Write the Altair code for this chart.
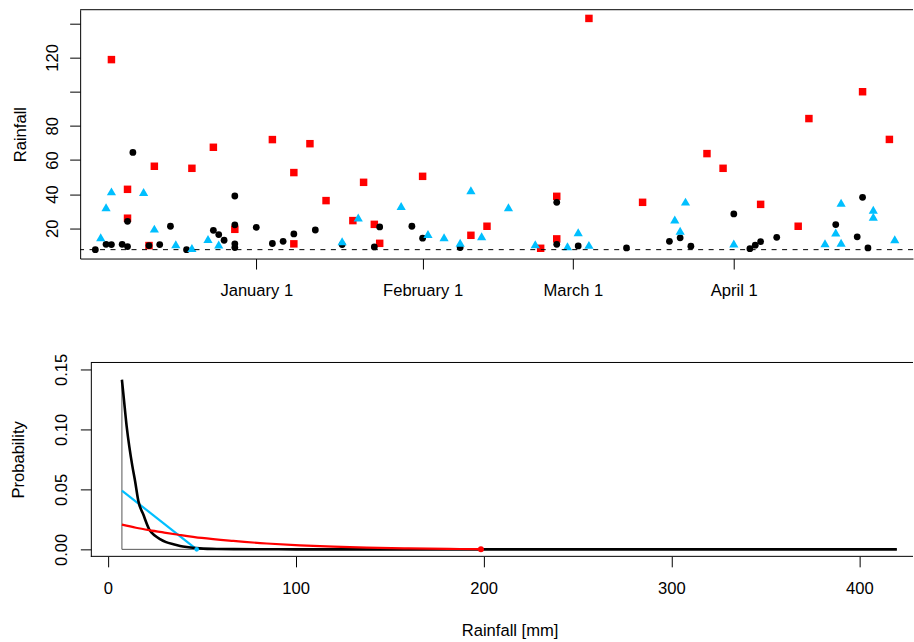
import altair as alt
import pandas as pd

FONT = "Liberation Sans"
FS = 16.6

# ---------------- top panel data (day offset from January 1, rainfall) ----------------
black_days = [-30, -28, -27, -25, -24, -24, -23, -20, -18, -16, -13, -8, -7, -6, -4, -4, -4, -4,
              0, 3, 5, 7, 11, 16, 22, 23, 29, 31, 38, 56, 56, 60, 69, 77, 79, 81, 89, 92, 93, 94,
              97, 108, 112, 113, 114]
black_vals = [7.5, 10.6, 10.5, 10.6, 9.3, 24.1, 64.4, 9.9, 10.5, 21.2, 7.5, 18.8, 16.3, 13.0, 38.9, 22.0, 10.9, 8.7,
              20.6, 11.1, 12.4, 16.7, 19.0, 10.5, 9.1, 20.8, 21.2, 14.2, 8.7, 35.2, 10.6, 9.7, 8.5, 12.4, 14.4, 9.5, 28.4, 8.1, 10.1, 12.2,
              14.7, 22.2, 15.0, 38.1, 8.5]

red_days = [-27, -24, -24, -20, -19, -12, -8, -4, 3, 7, 7, 10, 13, 18, 20, 22, 23, 31, 40, 43, 53, 56, 56,
            62, 72, 84, 87, 94, 101, 103, 113, 118]
red_vals = [118.7, 42.8, 25.9, 9.9, 56.3, 55.1, 67.4, 19.4, 71.9, 52.6, 10.9, 69.5, 36.2, 24.5, 46.9, 22.3, 11.2,
            50.4, 15.9, 21.2, 8.3, 38.7, 13.8, 142.8, 35.2, 63.7, 55.1, 34.0, 21.2, 84.2, 99.9, 72.0]

blue_days = [-29, -28, -27, -21, -19, -15, -12, -9, -7, 16, 19, 27, 32, 35, 38, 40, 42, 47, 52, 58, 60, 62,
             78, 79, 80, 89, 106, 108, 109, 109, 115, 115, 119]
blue_vals = [14.7, 32.3, 41.6, 41.3, 19.8, 10.6, 8.5, 13.8, 10.5, 12.4, 26.3, 33.1, 16.7, 14.7, 11.5, 42.2, 15.3,
             32.3, 10.6, 9.5, 17.7, 10.3, 25.1, 18.5, 35.6, 11.1, 11.2, 17.5, 34.9, 11.6, 30.8, 26.8, 13.6]

threshold = 7.5

date_tick_days = [0, 31, 59, 89]
date_tick_labels = ["January 1", "February 1", "March 1", "April 1"]
rain_ticks = [20, 40, 60, 80, 100, 120, 140]
rain_hidden = [100, 140]

# ---------------- bottom panel data ----------------
black_curve_x = [7.5, 8.5, 10, 11.5, 13, 14.5, 16.3, 18.9, 22.1, 25, 27.8, 31, 34.9, 38.5, 42, 49, 58, 67, 80, 100, 150, 250, 350, 420]
black_curve_y = [0.1414, 0.126, 0.103, 0.085, 0.070, 0.057, 0.040, 0.029, 0.0165, 0.0115, 0.0085, 0.0060, 0.0042, 0.0028,
                 0.0019, 0.0008, 0.0003, 0.0002, 0.0001, 0, 0, 0, 0, 0]
red_curve_x = [7.5, 15, 22, 30, 37.6, 50, 66.8, 84.6, 102.3, 120, 137.8, 160, 187.4, 198.6]
red_curve_y = [0.0206, 0.0180, 0.0160, 0.0140, 0.0122, 0.0095, 0.0070, 0.0049, 0.0033, 0.0022, 0.0014, 0.0008, 0.0003, 0.0002]
blue_curve_x = [7.5, 47.3]
blue_curve_y = [0.049, 0.0]
red_end = [198.6, 0.0]
blue_end = [47.3, 0.0]
peak_x = 7.5
peak_y = 0.1414
base_end_x = 420
frame_left_mm = -9.04  # left edge of the lower panel's frame

prob_ticks = [0, 0.05, 0.10, 0.15]
mm_ticks = [0, 100, 200, 300, 400]

# ---------------- top panel ----------------
W, H_TOP = 833.4, 249
x_top = alt.Scale(domain=[-32.83, 122.4], nice=False, zero=False)
y_top = alt.Scale(domain=[2.3, 147.9], nice=False, zero=False)

x_label_expr = " : ".join(f"datum.value == {d} ? '{l}'" for d, l in zip(date_tick_days, date_tick_labels)) + " : ''"
y_label_expr = " || ".join(f"datum.value == {v}" for v in rain_hidden) + " ? '' : datum.label"

x_axis_top = alt.Axis(values=date_tick_days, labelExpr=x_label_expr, title=None,
                      labelPadding=26.7, labelBaseline="alphabetic", labelAlign="center")
y_axis_top = alt.Axis(values=rain_ticks, labelExpr=y_label_expr, title="Rainfall",
                      labelAngle=-90, labelAlign="center", labelBaseline="alphabetic", labelPadding=12.6,
                      titleAngle=-90, titleAlign="center", titleBaseline="alphabetic",
                      titleX=-55, titleY=H_TOP / 2)

red_df = pd.DataFrame({"day": red_days, "value": red_vals})
black_df = pd.DataFrame({"day": black_days, "value": black_vals})
blue_df = pd.DataFrame({"day": blue_days, "value": blue_vals})

red_pts = alt.Chart(red_df).mark_point(shape="square", filled=True, size=56, color="#FF0000", opacity=1).encode(
    x=alt.X("day:Q", scale=x_top, axis=x_axis_top),
    y=alt.Y("value:Q", scale=y_top, axis=y_axis_top))
black_pts = alt.Chart(black_df).mark_circle(size=46, color="black", opacity=1).encode(
    x=alt.X("day:Q"), y=alt.Y("value:Q"))
blue_pts = alt.Chart(blue_df).mark_point(shape="triangle-up", filled=True, size=85, color="#00BFFF", opacity=1).encode(
    x=alt.X("day:Q"), y=alt.Y("value:Q"))
thresh = alt.Chart(pd.DataFrame({"value": [threshold]})).mark_rule(
    color="black", strokeWidth=1, strokeDash=[5, 5.5]).encode(y="value:Q")
top_line = alt.Chart(pd.DataFrame({"value": [0]})).mark_rule(color="black", strokeWidth=1).encode(y=alt.value(0))

top = alt.layer(red_pts, black_pts, blue_pts, thresh, top_line).properties(width=W, height=H_TOP)

# ---------------- bottom panel ----------------
H_BOT = 194
x_bot = alt.Scale(domain=[-14.73, 428.6], nice=False, zero=False)
y_bot = alt.Scale(domain=[-0.00583, 0.1558], nice=False, zero=False)

x_axis_bot = alt.Axis(values=mm_ticks, format="d", title="Rainfall [mm]", domain=False,
                      labelPadding=26.8, labelBaseline="alphabetic", labelAlign="center",
                      titleAlign="center", titleBaseline="alphabetic", titleX=429.7, titleY=78.8)
y_axis_bot = alt.Axis(values=prob_ticks, format=".2f", title="Probability", offset=-10.7,
                      labelAngle=-90, labelAlign="center", labelBaseline="alphabetic", labelPadding=13.4,
                      titleAngle=-90, titleAlign="center", titleBaseline="alphabetic",
                      titleX=-67.4, titleY=H_BOT / 2)

gray_v = alt.Chart(pd.DataFrame({"x": [peak_x], "y": [0.0], "y2": [peak_y]})).mark_rule(
    color="#555555", strokeWidth=1).encode(
    x=alt.X("x:Q", scale=x_bot, axis=x_axis_bot),
    y=alt.Y("y:Q", scale=y_bot, axis=y_axis_bot), y2="y2:Q")
gray_h = alt.Chart(pd.DataFrame({"x": [peak_x], "x2": [base_end_x], "y": [0.0]})).mark_rule(
    color="#555555", strokeWidth=1).encode(x="x:Q", x2="x2:Q", y="y:Q")
blue_line = alt.Chart(pd.DataFrame({"x": blue_curve_x, "y": blue_curve_y})).mark_line(
    color="#00BFFF", strokeWidth=2.2).encode(x="x:Q", y="y:Q")
black_line = alt.Chart(pd.DataFrame({"x": black_curve_x, "y": black_curve_y})).mark_line(
    color="black", strokeWidth=2.6, interpolate="monotone").encode(x="x:Q", y="y:Q")
red_line = alt.Chart(pd.DataFrame({"x": red_curve_x, "y": red_curve_y})).mark_line(
    color="#FF0000", strokeWidth=2.2, interpolate="monotone").encode(x="x:Q", y="y:Q")
blue_dot = alt.Chart(pd.DataFrame({"x": [blue_end[0]], "y": [blue_end[1]]})).mark_circle(
    color="#00BFFF", size=22, opacity=1).encode(x="x:Q", y="y:Q")
red_dot = alt.Chart(pd.DataFrame({"x": [red_end[0]], "y": [red_end[1]]})).mark_circle(
    color="#FF0000", size=36, opacity=1).encode(x="x:Q", y="y:Q")
frame_df = pd.DataFrame({"x": [frame_left_mm]})
frame_top = alt.Chart(frame_df).mark_rule(color="black", strokeWidth=1).encode(
    x="x:Q", x2=alt.value(W), y=alt.value(0))
frame_bottom = alt.Chart(frame_df).mark_rule(color="black", strokeWidth=1).encode(
    x="x:Q", x2=alt.value(W), y=alt.value(H_BOT))

bottom = alt.layer(gray_v, gray_h, blue_line, black_line, red_line, blue_dot, red_dot,
                   frame_top, frame_bottom).properties(width=W, height=H_BOT)

chart = alt.vconcat(top, bottom, spacing=53).properties(
    padding={"left": 10.2, "top": 8.5, "right": 0, "bottom": 0},
    background="white",
).configure_view(stroke=None).configure_axis(
    labelFont=FONT, labelFontSize=FS, labelColor="black",
    titleFont=FONT, titleFontSize=FS, titleColor="black", titleFontWeight="normal",
    domainColor="black", tickColor="black", domainWidth=1, tickWidth=1, tickSize=10.5,
    grid=False, labelOverlap=False, labelFlush=False,
)

chart.save("out.html", embed_options={"renderer": "svg", "actions": False})
